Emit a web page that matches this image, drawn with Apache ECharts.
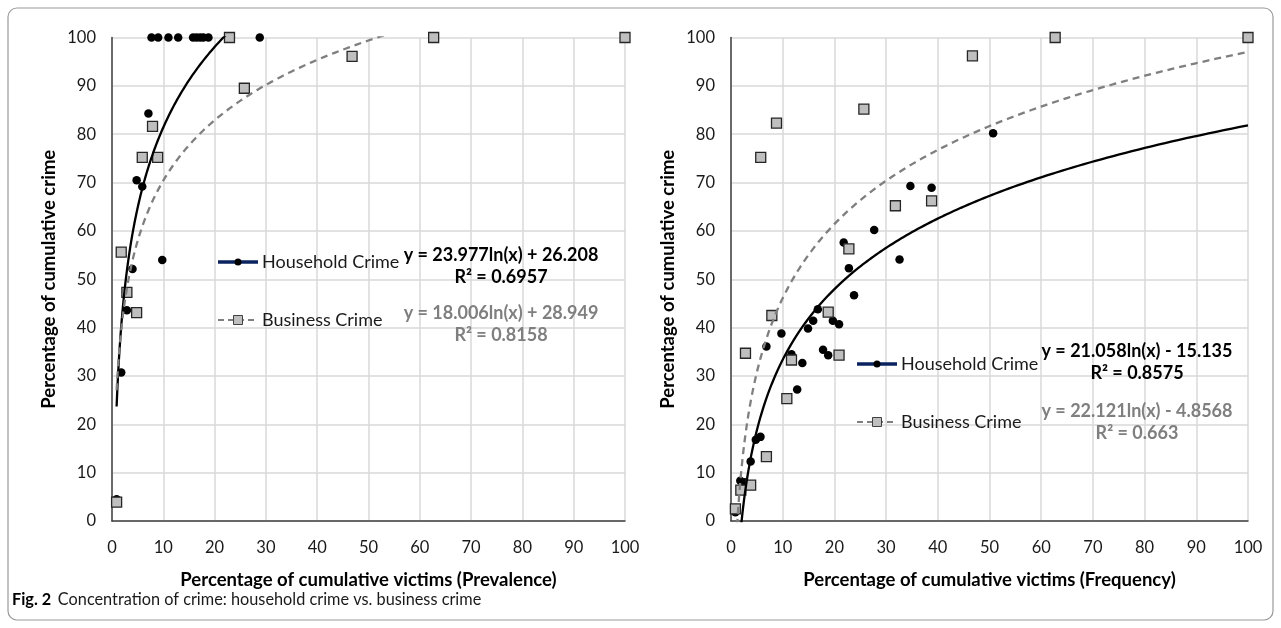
<!DOCTYPE html>
<html>
<head>
<meta charset="utf-8">
<script src="https://cdn.jsdelivr.net/npm/echarts@6/dist/echarts.min.js"></script>
<style>
  html, body { margin: 0; padding: 0; background: #ffffff; }
  #chart { width: 1281px; height: 628px; }
</style>
</head>
<body>
<div id="chart"></div>
<script>
// Prevalence panel: household crime (dots)
const prevHouseholdX = [0.9, 1.8, 2.9, 4.0, 4.8, 5.9, 7.1, 9.8, 7.7, 9.0, 11.0, 12.9, 15.8, 16.5, 17.2, 17.8, 18.8, 28.8];
const prevHouseholdY = [4.5, 30.7, 43.6, 52.1, 70.5, 69.2, 84.3, 54.0, 100, 100, 100, 100, 100, 100, 100, 100, 100, 100];
// Prevalence panel: business crime (squares)
const prevBusinessX = [0.9, 1.8, 2.9, 4.8, 5.9, 7.9, 8.9, 22.9, 25.8, 46.8, 62.7, 100];
const prevBusinessY = [3.9, 55.6, 47.3, 43.1, 75.2, 81.6, 75.2, 100, 89.5, 96.1, 100, 100];

// Frequency panel: household crime (dots)
const freqHouseholdX = [0.85, 1.8, 2.65, 3.8, 4.8, 5.7, 6.85, 9.75, 11.7, 12.8, 13.8, 14.9, 15.9, 16.8, 17.8, 18.8, 19.7, 20.9, 21.8, 22.8, 23.8, 27.7, 32.6, 34.7, 38.8, 50.7];
const freqHouseholdY = [1.8, 8.3, 8.0, 12.3, 16.8, 17.4, 36.1, 38.8, 34.5, 27.2, 32.7, 39.8, 41.4, 43.8, 35.4, 34.3, 41.4, 40.7, 57.6, 52.3, 46.7, 60.2, 54.1, 69.3, 68.9, 80.2];
// Frequency panel: business crime (squares)
const freqBusinessX = [0.85, 1.9, 3.8, 2.8, 5.75, 6.85, 7.9, 8.8, 10.8, 11.7, 18.8, 20.9, 22.8, 25.7, 31.8, 38.8, 46.7, 62.7, 100];
const freqBusinessY = [2.5, 6.4, 7.4, 34.7, 75.2, 13.3, 42.5, 82.3, 25.3, 33.3, 43.2, 34.3, 56.3, 85.2, 65.2, 66.2, 96.2, 100, 100];

// Logarithmic trend coefficients [a, b] for y = a*ln(x) + b, with R²
const prevHouseholdFit = [23.977, 26.208, 0.6957];
const prevBusinessFit = [18.006, 28.949, 0.8158];
const freqHouseholdFit = [21.058, -15.135, 0.8575];
const freqBusinessFit = [22.121, -4.8568, 0.663];

// Axis ticks
const tickLabels = [0, 10, 20, 30, 40, 50, 60, 70, 80, 90, 100];

const seriesNames = ['Household Crime', 'Business Crime'];
const axisTitles = {
  prevX: 'Percentage of cumulative victims (Prevalence)',
  freqX: 'Percentage of cumulative victims (Frequency)',
  y: 'Percentage of cumulative crime'
};
const caption = { bold: 'Fig. 2', text: 'Concentration of crime: household crime vs. business crime' };

const FONT = 'Lato, "Open Sans", sans-serif';
const AXIS_MAX = tickLabels[tickLabels.length - 1];

function pairs(xs, ys) { return xs.map((x, i) => [x, ys[i]]); }

// Trend line from the smallest observed x out to the end of the axis
function trend(fit, xs) {
  const lo = Math.min(...xs), hi = AXIS_MAX;
  const pts = [];
  const n = 300;
  for (let i = 0; i <= n; i++) {
    const x = Math.exp(Math.log(lo) + (Math.log(hi) - Math.log(lo)) * i / n);
    pts.push([x, fit[0] * Math.log(x) + fit[1]]);
  }
  return pts;
}

function fmtEq(fit) {
  const a = fit[0].toString();
  const b = fit[1];
  return 'y = ' + a + 'ln(x) ' + (b < 0 ? '- ' + Math.abs(b) : '+ ' + b);
}

const dotStyle = { color: '#000000', opacity: 1 };
const squareStyle = { color: '#bfbfbf', borderColor: '#262626', borderWidth: 1.3, opacity: 1 };

function xAxisCfg(gridIndex, name) {
  return {
    type: 'value', gridIndex, min: tickLabels[0], max: AXIS_MAX, interval: 10,
    name, nameLocation: 'middle', nameGap: 50,
    nameTextStyle: { fontFamily: FONT, fontSize: 18.5, fontWeight: 'bold', color: '#000' },
    axisLine: { show: true, lineStyle: { color: '#404040', width: 1.5 } },
    axisTick: { show: false },
    axisLabel: { fontFamily: FONT, fontSize: 16.5, color: '#1a1a1a', margin: 18 },
    splitLine: { show: true, lineStyle: { color: '#d9d9d9', width: 1.5 } }
  };
}
function yAxisCfg(gridIndex) {
  return {
    type: 'value', gridIndex, min: 0, max: 100, interval: 10,
    name: axisTitles.y, nameLocation: 'middle', nameGap: 53, nameRotate: 90,
    nameTextStyle: { fontFamily: FONT, fontSize: 18.5, fontWeight: 'bold', color: '#000' },
    axisLine: { show: true, lineStyle: { color: '#404040', width: 1.5 } },
    axisTick: { show: false },
    axisLabel: { fontFamily: FONT, fontSize: 16.5, color: '#1a1a1a', margin: 16 },
    splitLine: { show: true, lineStyle: { color: '#d9d9d9', width: 1.5 } }
  };
}

function scatter(name, idx, data, symbol, size, style) {
  return { name, type: 'scatter', xAxisIndex: idx, yAxisIndex: idx, data, symbol, symbolSize: size,
    itemStyle: style, z: symbol === 'rect' ? 3 : 2, silent: true };
}
function trendSeries(idx, data, dashed) {
  return { type: 'line', xAxisIndex: idx, yAxisIndex: idx, data, showSymbol: false, smooth: false,
    clip: true, silent: true, z: 4,
    lineStyle: dashed ? { color: '#7f7f7f', width: 2.3, type: [7, 5] } : { color: '#000000', width: 2.3 } };
}

// Legend key + equation block for one panel
function panelAnnotations(lx, ly1, ly2, eqCx, eq1y, eq2y, fitH, fitB) {
  const eqFont = 'bold 18px ' + FONT;
  const lgFont = '18px ' + FONT;
  return [
    { type: 'line', shape: { x1: lx, y1: ly1, x2: lx + 40, y2: ly1 }, style: { stroke: '#0b2460', lineWidth: 3.5 }, z: 10 },
    { type: 'circle', shape: { cx: lx + 20, cy: ly1, r: 3.5 }, style: { fill: '#000' }, z: 11 },
    { type: 'text', x: lx + 44, y: ly1, style: { text: seriesNames[0], font: lgFont, fill: '#1a1a1a', textVerticalAlign: 'middle' }, z: 10 },
    { type: 'line', shape: { x1: lx, y1: ly2, x2: lx + 40, y2: ly2 }, style: { stroke: '#7f7f7f', lineWidth: 2, lineDash: [6, 4] }, z: 10 },
    { type: 'rect', shape: { x: lx + 15.5, y: ly2 - 4.5, width: 9, height: 9 }, style: { fill: '#bfbfbf', stroke: '#404040', lineWidth: 1 }, z: 11 },
    { type: 'text', x: lx + 44, y: ly2, style: { text: seriesNames[1], font: lgFont, fill: '#1a1a1a', textVerticalAlign: 'middle' }, z: 10 },
    { type: 'text', x: eqCx, y: eq1y, style: { text: fmtEq(fitH), font: eqFont, fill: '#000', textAlign: 'center', textVerticalAlign: 'middle' }, z: 10 },
    { type: 'text', x: eqCx, y: eq1y + 22, style: { text: 'R² = ' + fitH[2], font: eqFont, fill: '#000', textAlign: 'center', textVerticalAlign: 'middle' }, z: 10 },
    { type: 'text', x: eqCx, y: eq2y, style: { text: fmtEq(fitB), font: eqFont, fill: '#7f7f7f', textAlign: 'center', textVerticalAlign: 'middle' }, z: 10 },
    { type: 'text', x: eqCx, y: eq2y + 22, style: { text: 'R² = ' + fitB[2], font: eqFont, fill: '#7f7f7f', textAlign: 'center', textVerticalAlign: 'middle' }, z: 10 }
  ];
}

const chart = echarts.init(document.getElementById('chart'), null, { renderer: 'canvas' });

const option = {
  backgroundColor: '#ffffff',
  animation: false,
  grid: [
    { left: 112, right: 656, top: 37.5, bottom: 107, containLabel: false },
    { left: 731, right: 33, top: 37.5, bottom: 107, containLabel: false }
  ],
  xAxis: [xAxisCfg(0, axisTitles.prevX), xAxisCfg(1, axisTitles.freqX)],
  yAxis: [yAxisCfg(0), yAxisCfg(1)],
  series: [
    scatter(seriesNames[0], 0, pairs(prevHouseholdX, prevHouseholdY), 'circle', 8.5, dotStyle),
    scatter(seriesNames[1], 0, pairs(prevBusinessX, prevBusinessY), 'rect', 10, squareStyle),
    trendSeries(0, trend(prevHouseholdFit, prevHouseholdX), false),
    trendSeries(0, trend(prevBusinessFit, prevBusinessX), true),
    scatter(seriesNames[0], 1, pairs(freqHouseholdX, freqHouseholdY), 'circle', 8.5, dotStyle),
    scatter(seriesNames[1], 1, pairs(freqBusinessX, freqBusinessY), 'rect', 10, squareStyle),
    trendSeries(1, trend(freqHouseholdFit, freqHouseholdX), false),
    trendSeries(1, trend(freqBusinessFit, freqBusinessX), true)
  ],
  graphic: [
    { type: 'rect', shape: { x: 8, y: 8, width: 1265, height: 612, r: 9 }, style: { fill: 'none', stroke: '#9a9a9a', lineWidth: 1.2 }, z: -1 },
    { type: 'text', x: 12, y: 600, style: {
      text: '{b|' + caption.bold + '}  {n|' + caption.text + '}',
      textVerticalAlign: 'middle',
      rich: {
        b: { font: 'bold 16.3px ' + FONT, fill: '#000' },
        n: { font: '16.3px ' + FONT, fill: '#1a1a1a' }
      }
    } }
  ]
    .concat(panelAnnotations(218, 262, 320, 501, 255, 313, prevHouseholdFit, prevBusinessFit))
    .concat(panelAnnotations(857, 364, 422, 1137, 351, 411, freqHouseholdFit, freqBusinessFit))
};

chart.setOption(option);
</script>
</body>
</html>
